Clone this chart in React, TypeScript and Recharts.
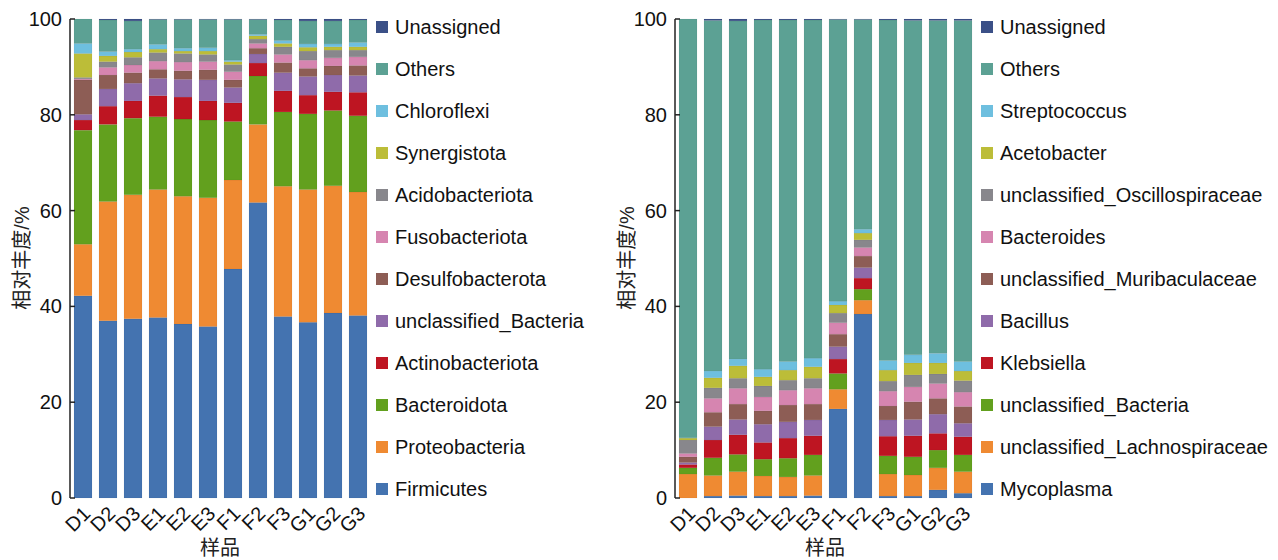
import { BarChart, Bar, XAxis, YAxis, Label } from 'recharts';

const FONT = "'Liberation Sans', Arial, 'Noto Sans CJK SC', sans-serif";

const samples = ['D1', 'D2', 'D3', 'E1', 'E2', 'E3', 'F1', 'F2', 'F3', 'G1', 'G2', 'G3'];
const yTicks = [0, 20, 40, 60, 80, 100];

// phylum level (left panel), listed from the bottom of the stack up
const firmicutes = [42.2, 37.0, 37.4, 37.7, 36.3, 35.8, 47.8, 61.7, 37.9, 36.7, 38.6, 38.1];
const proteobacteria = [10.8, 24.9, 25.9, 26.7, 26.7, 26.9, 18.6, 16.3, 27.2, 27.7, 26.6, 25.8];
const bacteroidota = [23.8, 16.1, 16.0, 15.2, 16.1, 16.2, 12.2, 10.1, 15.5, 15.8, 15.7, 15.9];
const actinobacteriota = [2.1, 3.8, 3.6, 4.4, 4.6, 4.0, 3.9, 2.7, 4.4, 3.9, 3.9, 4.9];
const unclassifiedBacteriaP = [1.2, 3.6, 3.7, 3.6, 3.7, 4.4, 3.2, 1.9, 3.8, 3.9, 3.5, 3.5];
const desulfobacterota = [7.2, 2.9, 2.2, 1.9, 1.8, 2.1, 1.6, 1.2, 2.1, 1.7, 1.9, 2.1];
const fusobacteriota = [0.2, 1.6, 1.6, 1.7, 1.8, 1.7, 1.7, 1.0, 1.7, 1.7, 1.7, 1.8];
const acidobacteriota = [0.3, 1.2, 1.6, 1.8, 1.8, 1.5, 1.5, 0.9, 1.6, 1.9, 1.6, 1.4];
const synergistota = [5.0, 1.2, 1.1, 0.7, 0.5, 0.7, 0.6, 0.7, 0.7, 0.8, 0.7, 0.7];
const chloroflexi = [2.1, 0.9, 0.6, 1.0, 0.6, 0.7, 0.3, 0.3, 0.6, 0.7, 0.6, 0.9];
const othersP = [5.1, 6.6, 5.9, 5.2, 6.0, 5.9, 8.5, 3.1, 4.3, 4.8, 4.8, 4.7];
const unassignedP = [0, 0.2, 0.4, 0.1, 0.1, 0.1, 0.1, 0.1, 0.2, 0.4, 0.4, 0.2];

// genus level (right panel), bottom of the stack up
const mycoplasma = [0, 0.4, 0.5, 0.4, 0.4, 0.5, 18.6, 38.4, 0.4, 0.4, 1.7, 1.0];
const lachnospiraceae = [5.0, 4.3, 5.0, 4.2, 4.0, 4.2, 4.1, 2.9, 4.6, 4.4, 4.6, 4.5];
const unclassifiedBacteriaG = [1.3, 3.7, 3.6, 3.5, 3.9, 4.3, 3.3, 2.3, 3.8, 3.8, 3.7, 3.5];
const klebsiella = [0.7, 3.7, 4.1, 3.5, 4.2, 4.0, 3.0, 2.3, 4.1, 4.4, 3.5, 3.8];
const bacillus = [0.4, 2.8, 3.2, 3.8, 3.4, 3.3, 2.6, 2.2, 3.4, 3.4, 4.0, 2.8];
const muribaculaceae = [1.2, 3.0, 3.2, 2.8, 3.5, 3.3, 2.6, 2.4, 2.9, 3.7, 3.3, 3.5];
const bacteroides = [0.7, 2.9, 3.3, 2.9, 3.1, 3.3, 2.4, 1.8, 3.1, 3.1, 3.1, 3.0];
const oscillospiraceae = [2.8, 2.2, 2.1, 2.3, 2.1, 2.1, 2.0, 1.6, 2.1, 2.5, 2.0, 2.4];
const acetobacter = [0.4, 2.1, 2.6, 1.9, 2.1, 2.4, 1.7, 1.4, 2.3, 2.5, 2.3, 2.0];
const streptococcus = [0.1, 1.4, 1.4, 1.6, 1.8, 1.8, 0.8, 0.8, 2.0, 1.7, 2.0, 2.0];
const othersG = [87.4, 73.2, 70.6, 72.9, 71.3, 70.6, 58.8, 43.8, 71.1, 69.8, 69.5, 71.2];
const unassignedG = [0, 0.3, 0.4, 0.2, 0.2, 0.2, 0.1, 0.1, 0.2, 0.3, 0.3, 0.3];

const colors = [
  '#4473B0', '#EF8A32', '#62A01E', '#BE1522', '#8F6BAA', '#8D5D55',
  '#D685B0', '#88878C', '#BCBD38', '#6EBFDF', '#5CA194', '#3B5087',
];

interface Series {
  name: string;
  values: number[];
  color: string;
}

const phylumSeries: Series[] = [
  { name: 'Firmicutes', values: firmicutes, color: colors[0] },
  { name: 'Proteobacteria', values: proteobacteria, color: colors[1] },
  { name: 'Bacteroidota', values: bacteroidota, color: colors[2] },
  { name: 'Actinobacteriota', values: actinobacteriota, color: colors[3] },
  { name: 'unclassified_Bacteria', values: unclassifiedBacteriaP, color: colors[4] },
  { name: 'Desulfobacterota', values: desulfobacterota, color: colors[5] },
  { name: 'Fusobacteriota', values: fusobacteriota, color: colors[6] },
  { name: 'Acidobacteriota', values: acidobacteriota, color: colors[7] },
  { name: 'Synergistota', values: synergistota, color: colors[8] },
  { name: 'Chloroflexi', values: chloroflexi, color: colors[9] },
  { name: 'Others', values: othersP, color: colors[10] },
  { name: 'Unassigned', values: unassignedP, color: colors[11] },
];

const genusSeries: Series[] = [
  { name: 'Mycoplasma', values: mycoplasma, color: colors[0] },
  { name: 'unclassified_Lachnospiraceae', values: lachnospiraceae, color: colors[1] },
  { name: 'unclassified_Bacteria', values: unclassifiedBacteriaG, color: colors[2] },
  { name: 'Klebsiella', values: klebsiella, color: colors[3] },
  { name: 'Bacillus', values: bacillus, color: colors[4] },
  { name: 'unclassified_Muribaculaceae', values: muribaculaceae, color: colors[5] },
  { name: 'Bacteroides', values: bacteroides, color: colors[6] },
  { name: 'unclassified_Oscillospiraceae', values: oscillospiraceae, color: colors[7] },
  { name: 'Acetobacter', values: acetobacter, color: colors[8] },
  { name: 'Streptococcus', values: streptococcus, color: colors[9] },
  { name: 'Others', values: othersG, color: colors[10] },
  { name: 'Unassigned', values: unassignedG, color: colors[11] },
];

// y tick: label on the left, short tick pointing into the plot
function YTick({ x, y, payload }: any) {
  return (
    <g>
      <line x1={x + 8} x2={x + 13} y1={y} y2={y} stroke="#222" strokeWidth={1.5} />
      <text x={x} y={y} dy={7} textAnchor="end" fontSize={20} fill="#111" fontFamily={FONT}>
        {payload.value}
      </text>
    </g>
  );
}

function XTick({ x, y, payload }: any) {
  const tx = x + 9;
  const ty = y + 17;
  return (
    <text
      x={tx}
      y={ty}
      textAnchor="end"
      fontSize={20}
      fill="#111"
      fontFamily={FONT}
      transform={`rotate(-45, ${tx}, ${ty})`}
    >
      {payload.value}
    </text>
  );
}

function Panel({ series, left }: { series: Series[]; left: number }) {
  const rows = samples.map((s, i) => {
    const row: Record<string, string | number> = { sample: s };
    series.forEach((se) => {
      row[se.name] = se.values[i];
    });
    return row;
  });

  return (
    <div style={{ position: 'absolute', left, top: 0 }}>
      <BarChart width={370} height={560} data={rows} margin={{ top: 19, right: 0, left: 0, bottom: 0 }}>
        <XAxis
          dataKey="sample"
          axisLine={false}
          tickLine={false}
          tickSize={0}
          tickMargin={0}
          interval={0}
          height={62}
          tick={<XTick />}
        >
          <Label
            content={() => (
              <text x={220} y={548} textAnchor="middle" dominantBaseline="central" fontSize={20} fill="#222" fontFamily={FONT}>
                样品
              </text>
            )}
          />
        </XAxis>
        <YAxis
          domain={[0, 100]}
          ticks={yTicks}
          interval={0}
          width={70}
          tickSize={0}
          tickMargin={8}
          tickLine={false}
          axisLine={{ stroke: '#222', strokeWidth: 1.5 }}
          tick={<YTick />}
        >
          <Label
            content={() => (
              <text
                x={22}
                y={258}
                textAnchor="middle"
                dominantBaseline="central"
                fontSize={20}
                fill="#222"
                fontFamily={FONT}
                transform="rotate(-90, 22, 258)"
              >
                相对丰度/%
              </text>
            )}
          />
        </YAxis>
        {series.map((se) => (
          <Bar
            key={se.name}
            dataKey={se.name}
            stackId="a"
            fill={se.color}
            barSize={18}
            stroke="rgba(0,0,0,0.08)"
            strokeWidth={0.5}
            isAnimationActive={false}
          />
        ))}
      </BarChart>
      <div style={{ position: 'absolute', left: 376, top: 6, fontFamily: FONT, fontSize: 20, color: '#111' }}>
        {[...series].reverse().map((se) => (
          <div key={se.name} style={{ height: 42, display: 'flex', alignItems: 'center', whiteSpace: 'nowrap' }}>
            <span style={{ width: 12, height: 12, background: se.color, marginRight: 7, display: 'inline-block' }} />
            {se.name}
          </div>
        ))}
      </div>
    </div>
  );
}

export default function App() {
  return (
    <div style={{ position: 'fixed', left: 0, top: 0, width: 1278, height: 560, background: '#fff', overflow: 'hidden' }}>
      <Panel series={phylumSeries} left={0} />
      <Panel series={genusSeries} left={605} />
    </div>
  );
}
